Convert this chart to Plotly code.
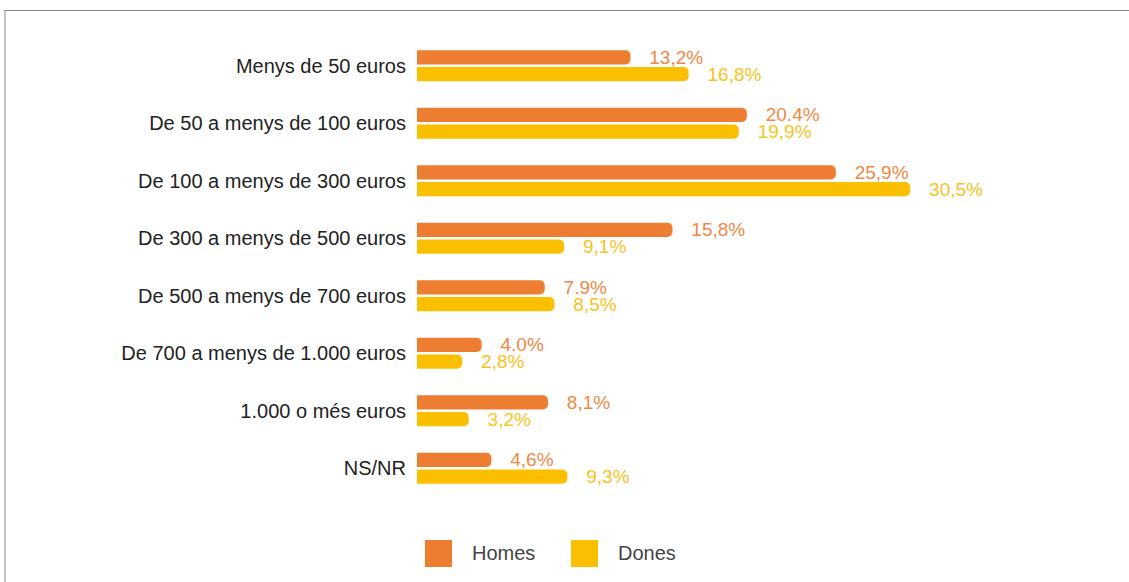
import plotly.graph_objects as go

# spending bands (top to bottom)
categories = [
    "Menys de 50 euros",
    "De 50 a menys de 100 euros",
    "De 100 a menys de 300 euros",
    "De 300 a menys de 500 euros",
    "De 500 a menys de 700 euros",
    "De 700 a menys de 1.000 euros",
    "1.000 o més euros",
    "NS/NR",
]
homes = [13.2, 20.4, 25.9, 15.8, 7.9, 4.0, 8.1, 4.6]
dones = [16.8, 19.9, 30.5, 9.1, 8.5, 2.8, 3.2, 9.3]
homes_labels = ["13,2%", "20.4%", "25,9%", "15,8%", "7.9%", "4.0%", "8,1%", "4,6%"]
dones_labels = ["16,8%", "19,9%", "30,5%", "9,1%", "8,5%", "2,8%", "3,2%", "9,3%"]

ORANGE = "#ED7D31"
YELLOW = "#FAC000"
FONT = "Arial, Liberation Sans, sans-serif"

W, H = 1129, 582
L, R, T, B = 417, 146, 37, 85
PW, PH = W - L - R, H - T - B


def px_x(x):
    return (x - L) / PW


def px_y(y):
    return (H - B - y) / PH


fig = go.Figure()
fig.add_trace(go.Bar(
    y=categories, x=homes, name="Homes", orientation="h",
    marker_color=ORANGE, marker_line_width=0,
    text=["   " + t for t in homes_labels], textposition="outside",
    constraintext="none",
    textfont=dict(color="#EF8845", size=19, family=FONT),
    cliponaxis=False, hoverinfo="skip",
))
fig.add_trace(go.Bar(
    y=categories, x=dones, name="Dones", orientation="h",
    marker_color=YELLOW, marker_line_width=0,
    text=["   " + t for t in dones_labels], textposition="outside",
    constraintext="none",
    textfont=dict(color="#F8C31C", size=19, family=FONT),
    cliponaxis=False, hoverinfo="skip",
))

fig.update_layout(
    width=W, height=H,
    margin=dict(l=L, r=R, t=T, b=B),
    paper_bgcolor="white", plot_bgcolor="white",
    barmode="group", bargap=0.42, bargroupgap=0.15,
    barcornerradius=5,
    showlegend=False,
    font=dict(family=FONT, size=20, color="#222222"),
    xaxis=dict(range=[0, 35], visible=False, fixedrange=True),
    yaxis=dict(autorange="reversed", showgrid=False, zeroline=False,
               showline=False, ticks="", ticklabelstandoff=10,
               tickfont=dict(size=20, color="#222222")),
)

# frame lines (top and left)
fig.add_shape(type="line", xref="paper", yref="paper",
              x0=px_x(4), x1=px_x(W), y0=px_y(10.5), y1=px_y(10.5),
              line=dict(color="#8a8a8a", width=1))
fig.add_shape(type="line", xref="paper", yref="paper",
              x0=px_x(5), x1=px_x(5), y0=px_y(10.5), y1=px_y(H),
              line=dict(color="#8a8a8a", width=1))

# custom legend
legend_items = [("Homes", ORANGE, 425, 470), ("Dones", YELLOW, 571, 616)]
for name, color, sx, tx in legend_items:
    fig.add_shape(type="rect", xref="paper", yref="paper",
                  x0=px_x(sx), x1=px_x(sx + 27), y0=px_y(567), y1=px_y(540),
                  fillcolor=color, line_width=0)
    fig.add_annotation(xref="paper", yref="paper", x=px_x(tx), y=px_y(553),
                       text=name, showarrow=False, xanchor="left", yanchor="middle",
                       font=dict(size=20, color="#444444", family=FONT))

fig.write_html("out.html", config={"displayModeBar": False},
               post_script="document.body.style.margin='0';")
